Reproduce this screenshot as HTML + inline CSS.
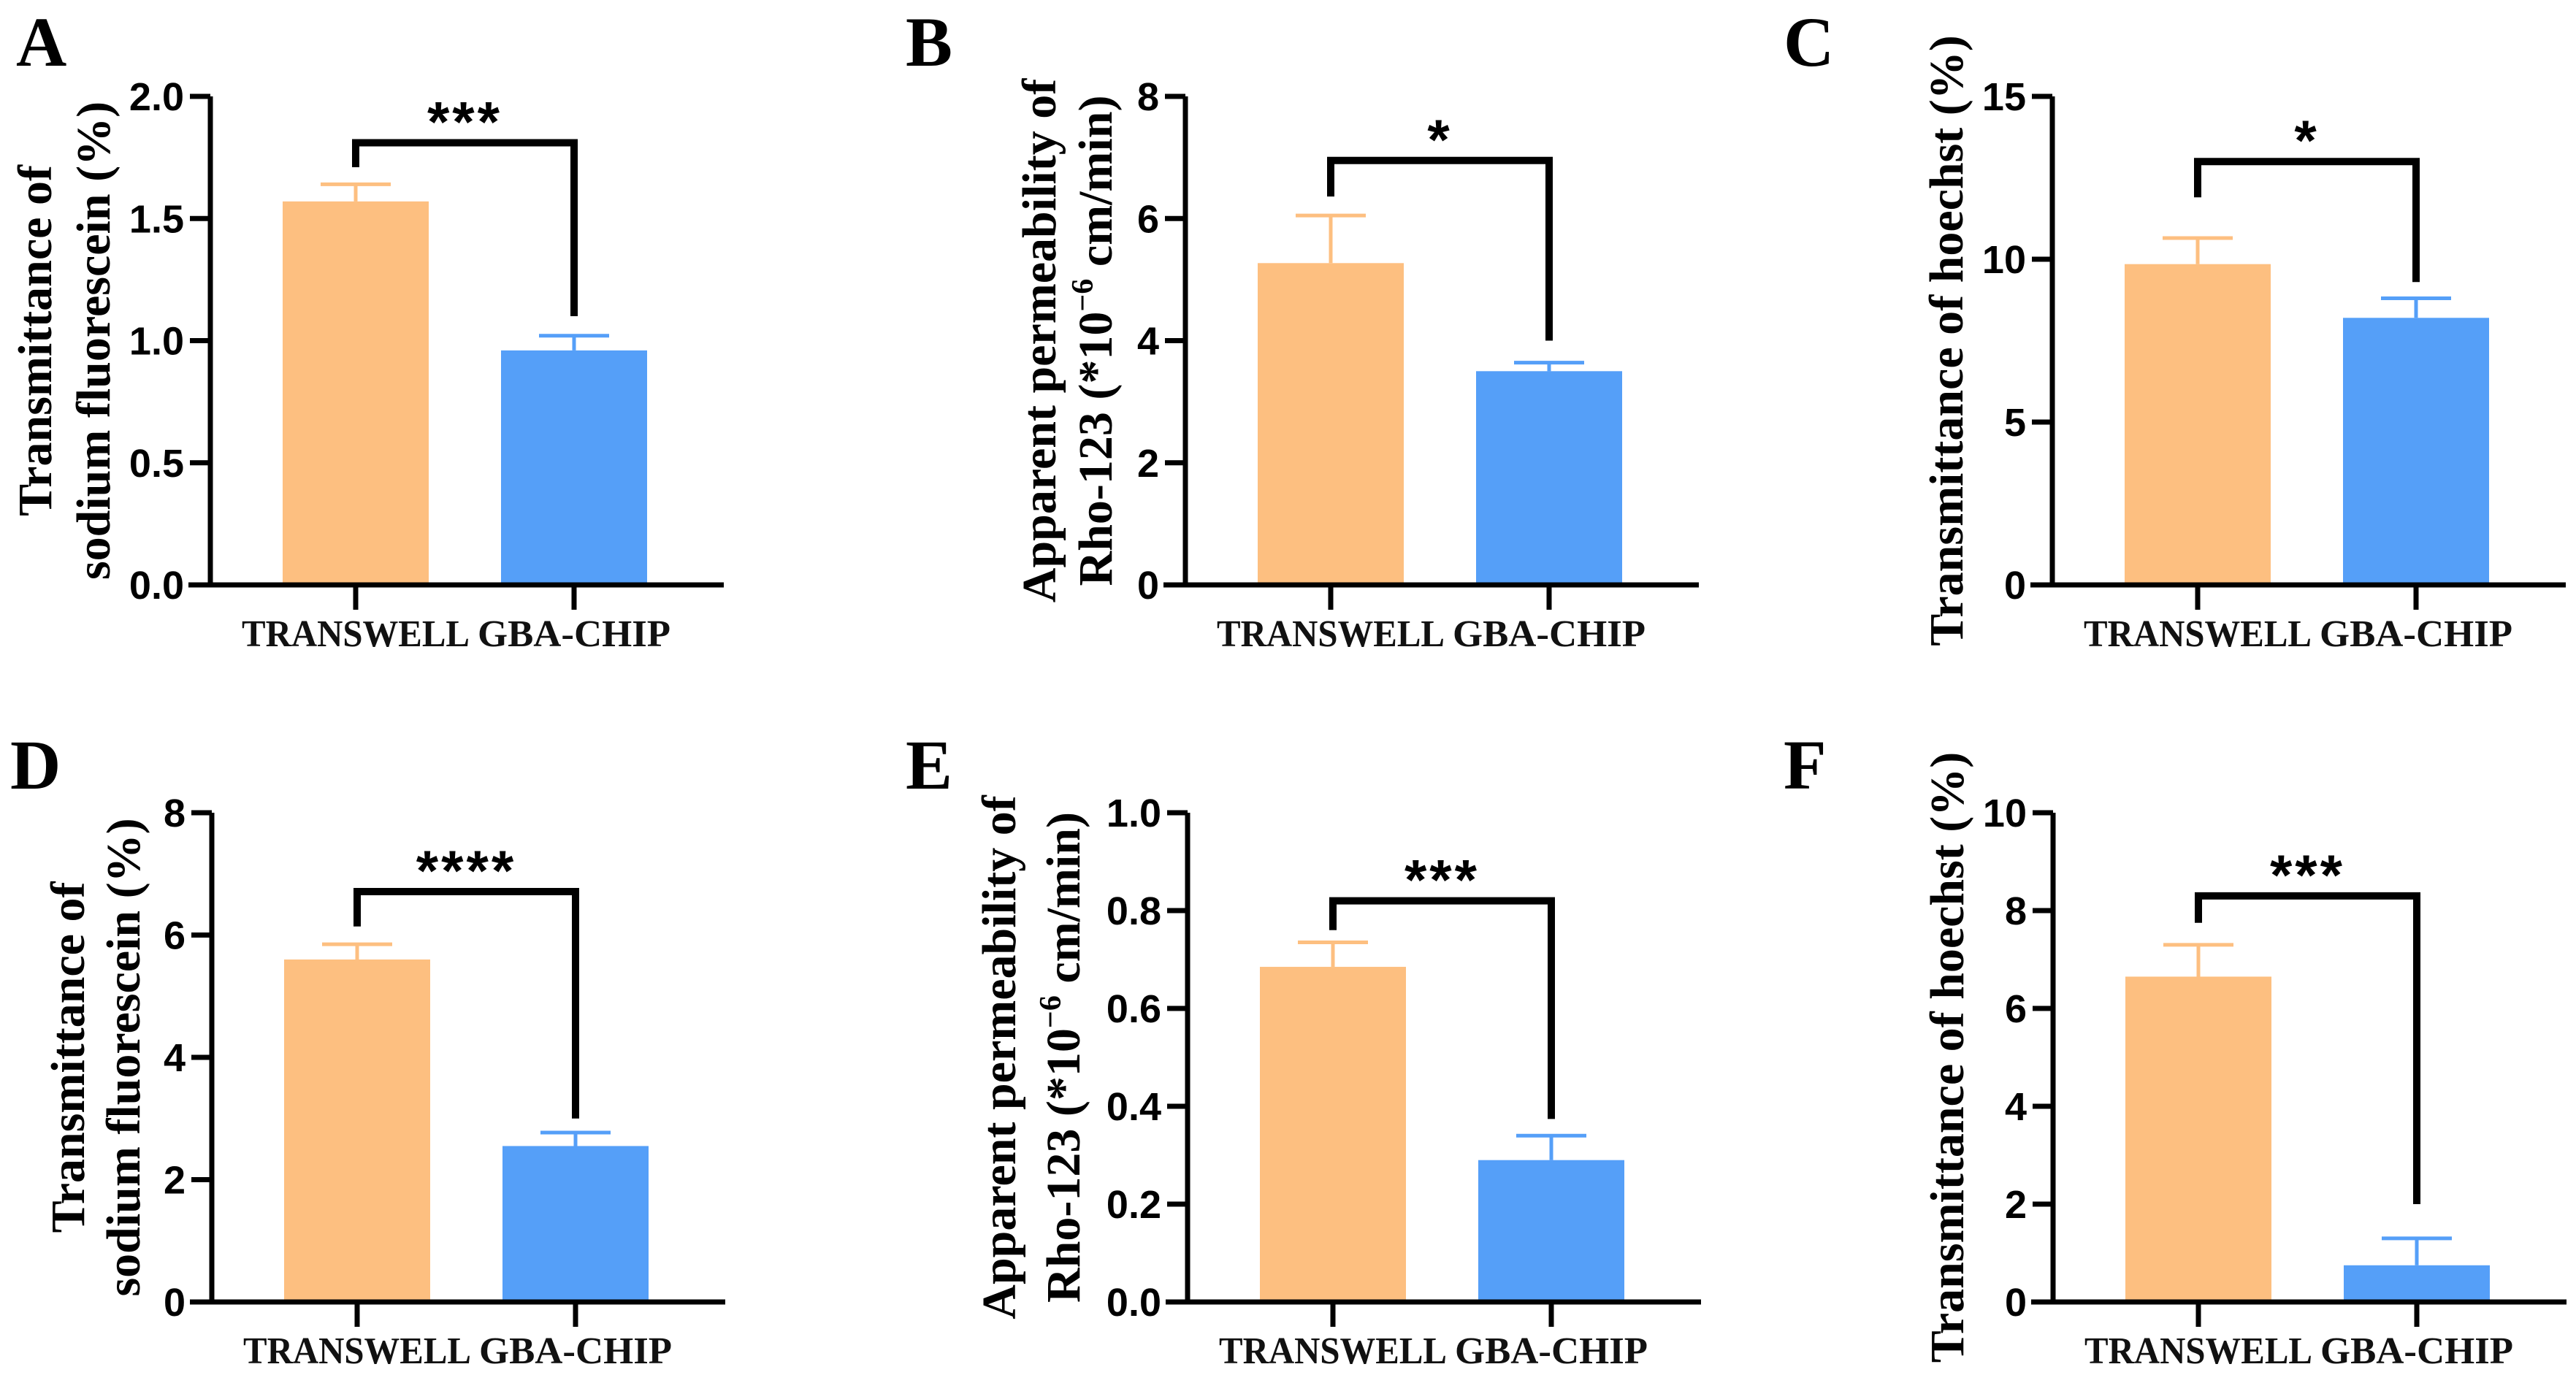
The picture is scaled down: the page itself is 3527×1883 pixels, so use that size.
<!DOCTYPE html>
<html><head><meta charset="utf-8"><style>
html,body{margin:0;padding:0;background:#fff;}
svg{display:block;}
</style></head><body>
<svg id="fig" width="3527" height="1883" viewBox="0 0 3527 1883" xmlns="http://www.w3.org/2000/svg"></svg>
<script>
const categories = ["TRANSWELL", "GBA-CHIP"];
const meanA = [1.57, 0.96];  const errA = [0.07, 0.06];  const ticksA = [0, 0.5, 1.0, 1.5, 2.0]; const tickLabA = ["0.0","0.5","1.0","1.5","2.0"]; const sigA = [1.81, 1.71, 1.10]; const starA = "***";
const meanB = [5.27, 3.5];   const errB = [0.78, 0.14];  const ticksB = [0, 2, 4, 6, 8];         const tickLabB = ["0","2","4","6","8"];           const sigB = [6.95, 6.36, 4.0];  const starB = "*";
const meanC = [9.85, 8.2];   const errC = [0.8, 0.6];    const ticksC = [0, 5, 10, 15];         const tickLabC = ["0","5","10","15"];             const sigC = [13.0, 11.9, 9.3];  const starC = "*";
const meanD = [5.6, 2.55];   const errD = [0.25, 0.22];  const ticksD = [0, 2, 4, 6, 8];         const tickLabD = ["0","2","4","6","8"];           const sigD = [6.71, 6.14, 3.0];  const starD = "****";
const meanE = [0.685, 0.29]; const errE = [0.05, 0.05];  const ticksE = [0, 0.2, 0.4, 0.6, 0.8, 1.0]; const tickLabE = ["0.0","0.2","0.4","0.6","0.8","1.0"]; const sigE = [0.82, 0.76, 0.374]; const starE = "***";
const meanF = [6.65, 0.75];  const errF = [0.65, 0.55];  const ticksF = [0, 2, 4, 6, 8, 10];      const tickLabF = ["0","2","4","6","8","10"];      const sigF = [8.3, 7.75, 2.0];   const starF = "***";

const NS = "http://www.w3.org/2000/svg";
const svg = document.getElementById("fig");
const COLORS = ["#FDBF80", "#559FF8"];
function mk(tag, attrs, parent) {
  const e = document.createElementNS(NS, tag);
  for (const k in attrs) e.setAttribute(k, attrs[k]);
  (parent || svg).appendChild(e);
  return e;
}
function panel(key, letter, x0, top, bottom, maxV, means, errs, ticks, tickLabs, sig, stars, titleLines, titleOffsets, letterX, letterY) {
  const g = mk("g", {});
  
  
  const y = v => bottom - v / maxV * (bottom - top);
  const barX = [x0 + 99, x0 + 398];
  const bw = 200;
  const L = mk("text", {x: letterX, y: letterY, "font-family": "Liberation Serif, serif", "font-weight": "bold", "font-size": 96, fill: "#000"}, g);
  L.textContent = letter;
  
  
  for (let i = 0; i < 2; i++) {
    const r = mk("rect", {x: barX[i], y: y(means[i]), width: bw, height: bottom - y(means[i]), fill: COLORS[i]}, g);
    
    
    const cx = barX[i] + bw / 2;
    const ey = y(means[i] + errs[i]);
    const eb = mk("path", {d: `M${cx},${y(means[i])}V${ey}M${cx - 48},${ey}H${cx + 48}`, stroke: COLORS[i], "stroke-width": 5, fill: "none"}, g);
    
    
    const xt = mk("line", {x1: cx, x2: cx, y1: bottom, y2: bottom + 34, stroke: "#000", "stroke-width": 7}, g);
    
    
    const xl = mk("text", {x: cx, y: bottom + 84, "text-anchor": "middle", "font-family": "Liberation Serif, serif", "font-weight": "bold", "font-size": 52, fill: "#111", textLength: i === 0 ? 312 : 264, lengthAdjust: "spacingAndGlyphs"}, g);
    xl.textContent = categories[i];
    
    
  }
  const ax = mk("path", {d: `M${x0},${top}V${bottom}M${x0 - 30},${bottom}H${x0 + 703}`, stroke: "#000", "stroke-width": 7, fill: "none"}, g);
  
  
  ticks.forEach((t, i) => {
    const ty = y(t);
    const tl = mk("line", {x1: x0 - 28, x2: x0, y1: ty, y2: ty, stroke: "#000", "stroke-width": 7}, g);
    
    
    const tt = mk("text", {x: x0 - 36, y: ty + 19, "text-anchor": "end", "font-family": "Liberation Sans, sans-serif", "font-weight": "bold", "font-size": 54, fill: "#000"}, g);
    tt.textContent = tickLabs[i];
    
    
  });
  const mid = (top + bottom) / 2;
  titleLines.forEach((ln, i) => {
    const tx = x0 + titleOffsets[i] + 14;
    const t = mk("text", {x: 0, y: 0, transform: `translate(${tx},${mid}) rotate(-90)`, "text-anchor": "middle", "font-family": "Liberation Serif, serif", "font-weight": "bold", "font-size": 66, fill: "#000"}, g);
    t.innerHTML = ln;
    
    
  });
  const c1 = barX[0] + bw / 2, c2 = barX[1] + bw / 2;
  const br = mk("path", {d: `M${c1},${y(sig[1])}V${y(sig[0])}H${c2}V${y(sig[2])}`, stroke: "#000", "stroke-width": 10, fill: "none"}, g);
  
  
  const st = mk("text", {x: (c1 + c2) / 2, y: y(sig[0]) - 2, "text-anchor": "middle", "font-family": "Liberation Sans, sans-serif", "font-weight": "bold", "font-size": 78, fill: "#000", "letter-spacing": 4}, g);
  st.textContent = stars;
  
  
}
const T1 = 132, B1 = 801, T2 = 1113, B2 = 1783;
const rhoT = ["Apparent permeability of", "Rho-123 (*10<tspan font-size='42' dy='-26'>−6</tspan><tspan dy='26'> cm/min)</tspan>"];
panel("a", "A", 288, T1, B1, 2.0, meanA, errA, ticksA, tickLabA, sigA, starA, ["Transmittance of", "sodium fluorescein (%)"], [-232, -152], 22, 90);
panel("b", "B", 1623, T1, B1, 8, meanB, errB, ticksB, tickLabB, sigB, starB, rhoT, [-192, -115], 1240, 90);
panel("c", "C", 2810, T1, B1, 15, meanC, errC, ticksC, tickLabC, sigC, starC, ["Transmittance of hoechst (%)"], [-137], 2442, 90);
panel("d", "D", 290, T2, B2, 8, meanD, errD, ticksD, tickLabD, sigD, starD, ["Transmittance of", "sodium fluorescein (%)"], [-189, -113], 14, 1080);
panel("e", "E", 1626, T2, B2, 1.0, meanE, errE, ticksE, tickLabE, sigE, starE, rhoT, [-250, -162], 1240, 1080);
panel("f", "F", 2811, T2, B2, 10, meanF, errF, ticksF, tickLabF, sigF, starF, ["Transmittance of hoechst (%)"], [-137], 2442, 1080);
</script>
</body></html>
